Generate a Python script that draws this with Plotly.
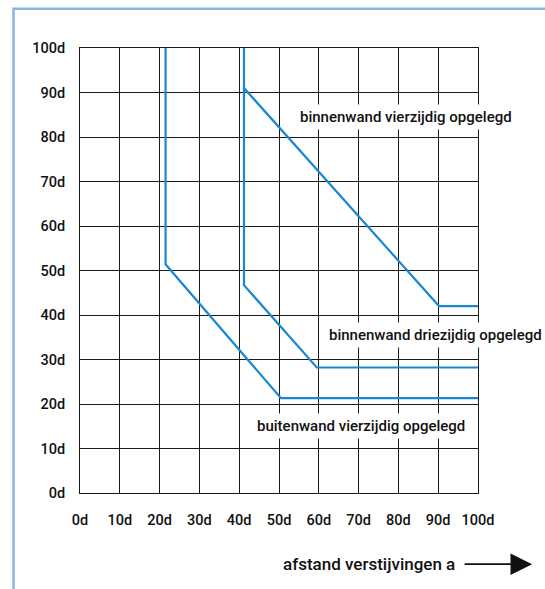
import plotly.graph_objects as go

# ---- data ----
tick_vals = [0, 10, 20, 30, 40, 50, 60, 70, 80, 90, 100]
tick_text = ["0d", "10d", "20d", "30d", "40d", "50d", "60d", "70d", "80d", "90d", "100d"]

buiten_x = [21.5, 21.5, 50.5, 100]
buiten_y = [100, 51.4, 21.3, 21.3]

drie_x = [41.2, 41.2, 59.5, 100]
drie_y = [100, 46.7, 28.2, 28.2]

vier_x = [41.2, 90.2, 100]
vier_y = [91.0, 42.0, 42.0]

labels = ["binnenwand vierzijdig opgelegd",
          "binnenwand driezijdig opgelegd",
          "buitenwand vierzijdig opgelegd"]
label_x = [81.9, 89.4, 70.6]
label_y = [84.6, 35.4, 15.1]

axis_title = "afstand verstijvingen a"

BLUE = "#1a88d0"
FONT = "Roboto, DejaVu Sans Condensed, sans-serif"
W = 500

fig = go.Figure()
for xs, ys in [(buiten_x, buiten_y), (drie_x, drie_y), (vier_x, vier_y)]:
    fig.add_trace(go.Scatter(x=xs, y=ys, mode="lines",
                             line=dict(color=BLUE, width=2.2),
                             hoverinfo="skip", showlegend=False))

for t, x, y in zip(labels, label_x, label_y):
    fig.add_annotation(x=x, y=y, xref="x", yref="y", text=t, showarrow=False,
                       xanchor="center", yanchor="middle",
                       bgcolor="white", borderpad=3,
                       font=dict(family=FONT, size=15, color="#111", weight=W))

# axis title with arrow
fig.add_annotation(x=0.726, y=-0.160, xref="paper", yref="paper",
                   xanchor="center", yanchor="middle",
                   text=axis_title, showarrow=False,
                   font=dict(family=FONT, size=17, color="#111", weight=W))
fig.add_annotation(x=1.136, y=-0.160, xref="paper", yref="paper",
                   text="", showarrow=True, ax=-69, ay=0,
                   arrowhead=2, arrowsize=2.4, arrowwidth=1.8, arrowcolor="#111")

# light blue frame
fig.add_shape(type="rect", xref="paper", yref="paper",
              x0=-0.167, y0=-2, x1=3, y1=1.088,
              line=dict(color="#8db4e2", width=2.5), layer="below")

axis_common = dict(range=[0, 100], tickvals=tick_vals, ticktext=tick_text,
                   showgrid=True, gridcolor="#1a1a1a", gridwidth=1,
                   showline=True, linecolor="#1a1a1a", linewidth=1, mirror=True,
                   zeroline=False, ticks="outside", tickcolor="rgba(0,0,0,0)",
                   tickfont=dict(family=FONT, size=14.5, color="#111", weight=W),
                   fixedrange=True)

fig.update_layout(
    width=545, height=589,
    margin=dict(l=80, r=67, t=48, b=96),
    paper_bgcolor="white", plot_bgcolor="white",
    xaxis=dict(**axis_common, ticklen=14),
    yaxis=dict(**axis_common, ticklen=11),
    showlegend=False,
)

fig.write_html("out.html", config={"displayModeBar": False},
               post_script="document.body.style.margin='0';document.body.style.overflow='hidden';")
